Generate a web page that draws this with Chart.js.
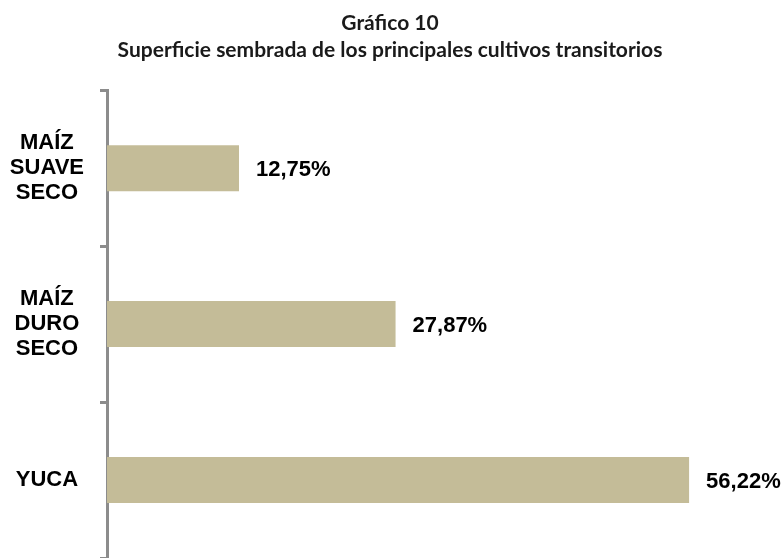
<!DOCTYPE html>
<html lang="es">
<head>
<meta charset="utf-8">
<title>Gráfico 10</title>
<script src="https://cdn.jsdelivr.net/npm/chart.js@4"></script>
<style>
    html, body { margin: 0; padding: 0; background: #fff; }
    #wrap { width: 782px; height: 558px; }
</style>
</head>
<body>
<div id="wrap"><canvas id="cultivosChart" width="782" height="558"></canvas></div>
<script>
// Datos
const cultivos = [['MAÍZ', 'SUAVE', 'SECO'], ['MAÍZ', 'DURO', 'SECO'], 'YUCA'];
const porcentajes = [12.75, 27.87, 56.22];
const tituloLineas = ['Gráfico 10', 'Superficie sembrada de los principales cultivos transitorios'];

const colorBarra = '#c4bc98';
const colorEje = '#8c8c8c';

// Etiquetas de valor al final de cada barra
const etiquetasValor = {
    id: 'etiquetasValor',
    afterDatasetsDraw(chart) {
        const ctx = chart.ctx;
        const meta = chart.getDatasetMeta(0);
        ctx.save();
        ctx.font = 'bold 22px "Liberation Sans", Arial, sans-serif';
        ctx.fillStyle = '#000';
        ctx.textAlign = 'left';
        ctx.textBaseline = 'middle';
        meta.data.forEach((bar, i) => {
            const txt = porcentajes[i].toFixed(2).replace('.', ',') + '%';
            ctx.fillText(txt, bar.x + 17, bar.y + 2);
        });
        ctx.restore();
    }
};

document.addEventListener('DOMContentLoaded', function () {
    const ctx = document.getElementById('cultivosChart').getContext('2d');

    new Chart(ctx, {
        type: 'bar',
        data: {
            labels: cultivos,
            datasets: [{
                data: porcentajes,
                backgroundColor: colorBarra,
                borderWidth: 0,
                barPercentage: 0.295,
                categoryPercentage: 1
            }]
        },
        options: {
            indexAxis: 'y',
            responsive: false,
            animation: false,
            devicePixelRatio: 1,
            layout: { padding: { top: 10, right: 2, bottom: -3, left: 0 } },
            plugins: {
                legend: { display: false },
                tooltip: { enabled: false },
                title: {
                    display: true,
                    text: tituloLineas,
                    color: '#1a1a1a',
                    font: { family: 'Lato, "Open Sans", sans-serif', size: 21, weight: 'bold', lineHeight: 1.29 },
                    padding: { top: 0, bottom: 26 }
                }
            },
            scales: {
                x: {
                    display: false,
                    min: 0,
                    max: 65
                },
                y: {
                    offset: true,
                    border: { display: true, color: colorEje, width: 3 },
                    grid: {
                        offset: true,
                        drawOnChartArea: false,
                        drawTicks: true,
                        tickLength: 7,
                        color: colorEje,
                        lineWidth: 3
                    },
                    ticks: {
                        crossAlign: 'center',
                        padding: 16,
                        color: '#000',
                        font: { family: '"Liberation Sans", Arial, sans-serif', size: 22, weight: 'bold', lineHeight: 1.14 }
                    },
                    afterFit(scale) {
                        scale.width = 107;
                        // el eje llega hasta el borde inferior
                        scale.paddingTop = 0;
                        scale.paddingBottom = 0;
                    }
                }
            }
        },
        plugins: [etiquetasValor]
    });
});
</script>
</body>
</html>
